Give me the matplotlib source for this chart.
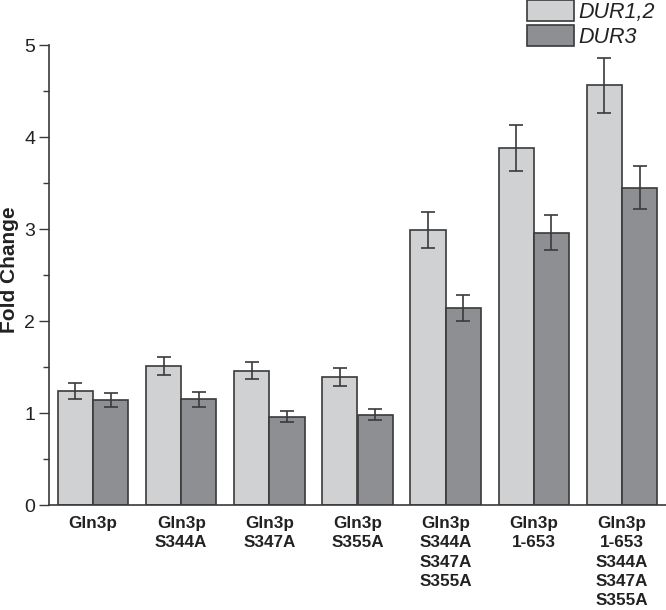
import matplotlib
matplotlib.use("Agg")
import matplotlib.pyplot as plt
import numpy as np

plt.rcParams['font.family'] = ['Liberation Sans', 'DejaVu Sans']

categories = ["Gln3p", "Gln3p\nS344A", "Gln3p\nS347A", "Gln3p\nS355A",
              "Gln3p\nS344A\nS347A\nS355A", "Gln3p\n1-653",
              "Gln3p\n1-653\nS344A\nS347A\nS355A"]
dur12 = [1.24, 1.51, 1.46, 1.39, 2.99, 3.88, 4.56]
dur12_err = [0.09, 0.10, 0.09, 0.10, 0.20, 0.25, 0.30]
dur3 = [1.14, 1.15, 0.96, 0.98, 2.14, 2.96, 3.45]
dur3_err = [0.08, 0.08, 0.06, 0.06, 0.14, 0.19, 0.23]
series_names = ["DUR1,2", "DUR3"]

light = "#d0d1d3"
dark = "#8e8f92"
edge = "#3a3a3a"

fig = plt.figure(figsize=(6.66, 6.10), dpi=100)
ax = fig.add_axes([49/666, 1-505/610, 617/666, 460/610])

x = np.arange(len(categories))
w = 0.4
ekw = dict(ecolor=edge, elinewidth=1.2, capsize=5, capthick=1.2)
b1 = ax.bar(x - w/2, dur12, w, yerr=dur12_err, color=light, edgecolor=edge,
            linewidth=1.2, error_kw=ekw, label=series_names[0], zorder=2)
b2 = ax.bar(x + w/2, dur3, w, yerr=dur3_err, color=dark, edgecolor=edge,
            linewidth=1.2, error_kw=ekw, label=series_names[1], zorder=2)

ax.set_xlim(-0.5, len(categories) - 0.5)
ax.set_ylim(0, 5)
ax.set_yticks([0, 1, 2, 3, 4, 5])
ax.set_yticks(np.arange(0.5, 5, 1), minor=True)
ax.tick_params(axis='y', which='major', direction='out', length=7, width=1,
               colors=edge, labelsize=14, labelcolor='#222222', pad=3)
ax.tick_params(axis='y', which='minor', direction='out', length=4, width=1, colors=edge)
ax.set_xticks(x)
ax.set_xticklabels(categories, fontsize=12.3, fontweight='bold', color='#222222',
                   linespacing=1.36, va='top')
ax.tick_params(axis='x', length=0, pad=8)
for s in ['top', 'right']:
    ax.spines[s].set_visible(False)
for s in ['left', 'bottom']:
    ax.spines[s].set_color(edge)
    ax.spines[s].set_linewidth(1.2)
ax.set_ylabel("Fold Change", fontsize=15, fontweight='bold', color='#222222')
ax.yaxis.set_label_coords((19-49)/617, (505-270)/460)

leg = ax.legend(handles=[b1, b2], labels=series_names, loc='upper left',
                bbox_to_anchor=(527/666, 1.0), bbox_transform=fig.transFigure,
                frameon=False, borderpad=0, borderaxespad=0,
                handlelength=2.2, handleheight=1.1, handletextpad=0.2,
                labelspacing=0.12, prop={'style': 'italic', 'size': 15.5})
for h in leg.legend_handles:
    h.set_edgecolor(edge)
for t in leg.get_texts():
    t.set_color('#222222')

fig.savefig("out.png", dpi=100)
